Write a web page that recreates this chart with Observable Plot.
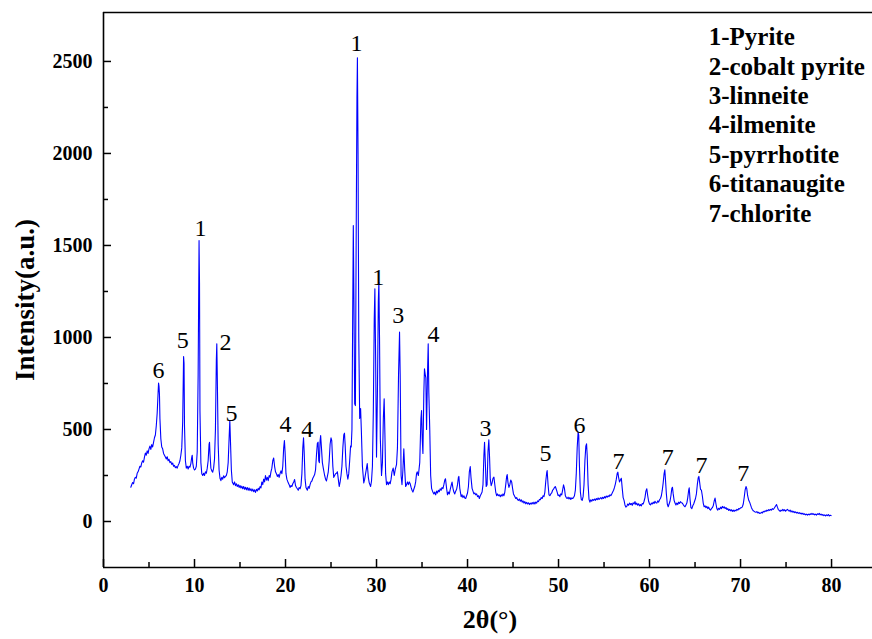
<!DOCTYPE html>
<html><head><meta charset="utf-8">
<script src="https://cdn.jsdelivr.net/npm/d3@7"></script>
<script src="https://cdn.jsdelivr.net/npm/@observablehq/plot@0.6"></script>
<style>body{margin:0;background:#fff}</style>
</head><body><div id="chart"></div>
<script>
// [2θ (°), intensity (a.u.)]
const scanLow = [[3.0,186],[3.1,200],[3.2,212],[3.3,205],[3.4,230],[3.5,240],[3.6,236],[3.7,262],[3.8,270],[3.9,285],[4.0,300],[4.1,296],[4.2,318],[4.3,330],[4.4,322],[4.5,350],[4.6,372],[4.7,360],[4.8,384],[4.9,370],[5.0,395],[5.1,410],[5.2,392],[5.3,418],[5.4,405],[5.5,430],[5.6,455],[5.7,470],[5.8,520],[5.9,590],[6.0,700],[6.05,752],[6.1,735],[6.15,690],[6.2,560],[6.3,450],[6.4,405],[6.5,395],[6.6,370],[6.7,360],[6.8,350],[6.9,340],[7.0,352],[7.1,330],[7.2,338],[7.3,320],[7.4,325],[7.5,310],[7.6,318],[7.7,300],[7.8,305],[7.9,292],[8.0,298],[8.1,290],[8.2,305],[8.3,315],[8.4,330],[8.5,360],[8.6,400],[8.7,540],[8.8,897],[8.85,860],[8.9,520],[9.0,330],[9.1,290],[9.2,300],[9.3,285],[9.4,300],[9.5,295],[9.6,315],[9.7,350],[9.75,360],[9.8,320],[9.9,290],[10.0,280],[10.1,285],[10.2,300],[10.3,380],[10.4,800],[10.5,1527],[10.55,1300],[10.6,600],[10.7,320],[10.8,260],[10.9,250],[11.0,262],[11.1,250],[11.2,270],[11.3,262],[11.4,290],[11.5,330],[11.6,420],[11.65,430],[11.7,370],[11.8,290],[11.9,275],[12.0,268],[12.1,290],[12.2,340],[12.3,500],[12.4,880],[12.45,966],[12.5,800],[12.6,420],[12.7,280],[12.8,235],[12.9,222],[13.0,240],[13.1,230],[13.2,248],[13.3,238],[13.4,245],[13.5,250],[13.6,270],[13.7,320],[13.8,450],[13.88,549],[13.95,440],[14.05,280],[14.15,215]];

const scanMid = [[14.3,200],[14.4,215],[14.5,195],[14.6,205],[14.7,190],[14.8,200],[14.9,185],[15.0,196],[15.1,182],[15.2,192],[15.3,178],[15.4,190],[15.5,175],[15.6,186],[15.7,172],[15.8,185],[15.9,170],[16.0,182],[16.1,168],[16.2,178],[16.3,165],[16.4,176],[16.5,162],[16.6,172],[16.7,158],[16.8,175],[16.9,166],[17.0,180],[17.1,172],[17.2,190],[17.3,182],[17.4,215],[17.5,200],[17.6,230],[17.7,215],[17.8,250],[17.9,225],[18.0,240],[18.1,222],[18.2,250],[18.3,240],[18.4,270],[18.5,290],[18.6,330],[18.7,345],[18.8,300],[18.9,270],[19.0,260],[19.1,245],[19.2,255],[19.3,240],[19.4,260],[19.5,275],[19.6,260],[19.7,300],[19.8,400],[19.88,440],[19.95,380],[20.05,260],[20.15,230],[20.3,210],[20.4,200],[20.5,185],[20.6,195],[20.7,190],[20.8,205],[20.9,215],[21.0,228],[21.1,195],[21.2,185],[21.3,178],[21.4,170],[21.5,185],[21.6,178],[21.7,195],[21.8,260],[21.9,400],[21.98,455],[22.05,380],[22.15,230],[22.25,185],[22.4,170],[22.5,190],[22.6,180],[22.7,200],[22.8,215],[22.9,220],[23.0,235],[23.1,245],[23.2,255],[23.3,280],[23.4,360],[23.5,425],[23.58,431],[23.65,330],[23.72,320],[23.8,440],[23.86,467],[23.95,400],[24.05,320],[24.15,290],[24.3,250],[24.4,230],[24.5,220],[24.6,245],[24.7,270],[24.8,330],[24.9,420],[25.0,455],[25.08,440],[25.2,300],[25.3,240],[25.4,250],[25.5,260],[25.6,262],[25.7,270],[25.8,230],[25.9,190],[26.0,215],[26.1,250],[26.2,300],[26.3,400],[26.4,470],[26.48,480],[26.55,420],[26.65,300],[26.75,260],[26.85,230],[26.95,260],[27.05,330],[27.15,410],[27.22,405],[27.3,500],[27.38,1100],[27.45,1608],[27.52,1200],[27.6,640],[27.68,630],[27.76,1500],[27.85,2300],[27.9,2520],[27.97,2000],[28.05,1000],[28.15,560],[28.25,614],[28.33,500],[28.45,300],[28.6,210],[28.7,230],[28.8,260],[28.9,290],[28.98,315],[29.1,240],[29.2,210],[29.35,190],[29.45,220],[29.55,300],[29.65,600],[29.75,1100],[29.82,1265],[29.9,900],[30.0,350],[30.1,700],[30.2,1200],[30.26,1300],[30.33,1000],[30.42,450],[30.55,250],[30.65,320],[30.75,560],[30.84,667],[30.92,480],[31.0,260],[31.1,200],[31.2,215],[31.3,200],[31.4,215],[31.5,205],[31.6,230],[31.7,270],[31.83,290],[31.95,250],[32.05,280],[32.2,310],[32.3,400],[32.42,800],[32.53,1029],[32.6,800],[32.7,250],[32.8,200],[32.9,280],[33.0,395],[33.1,280],[33.2,190],[33.3,200],[33.4,215],[33.5,200],[33.6,215],[33.7,205],[33.8,185],[33.9,170],[34.0,160],[34.1,175],[34.2,190],[34.3,215],[34.4,260],[34.47,270],[34.6,250],[34.75,320],[34.88,560],[34.95,603],[35.02,450],[35.1,370],[35.2,700],[35.27,830],[35.35,800],[35.42,780],[35.5,500],[35.6,800],[35.68,966],[35.75,700],[35.85,500],[35.95,250],[36.05,180],[36.15,165],[36.3,150],[36.4,160],[36.5,145],[36.6,165],[36.7,155],[36.8,170],[36.9,162],[37.0,178]];

const scanHigh = [[37.1,170],[37.2,185],[37.3,178],[37.4,200],[37.5,225],[37.58,232],[37.7,180],[37.8,145],[37.9,160],[38.0,150],[38.1,175],[38.2,195],[38.3,214],[38.4,180],[38.5,160],[38.6,150],[38.7,165],[38.8,175],[38.9,200],[39.0,240],[39.05,245],[39.15,180],[39.3,135],[39.4,145],[39.5,130],[39.6,140],[39.7,128],[39.8,125],[39.9,140],[40.0,155],[40.1,190],[40.2,270],[40.3,299],[40.38,240],[40.5,180],[40.6,165],[40.7,150],[40.8,155],[40.9,145],[41.0,150],[41.1,135],[41.2,140],[41.3,125],[41.4,140],[41.5,150],[41.6,160],[41.7,200],[41.8,360],[41.87,431],[41.95,330],[42.05,190],[42.15,200],[42.25,380],[42.34,444],[42.42,350],[42.5,230],[42.6,195],[42.7,210],[42.8,235],[42.9,241],[43.0,200],[43.1,160],[43.2,140],[43.3,150],[43.4,140],[43.5,145],[43.6,135],[43.7,145],[43.8,138],[43.9,150],[44.0,140],[44.1,160],[44.2,200],[44.3,245],[44.36,255],[44.45,210],[44.55,185],[44.65,200],[44.75,225],[44.85,215],[44.95,180],[45.05,150],[45.15,140],[45.3,125],[45.4,130],[45.5,118],[45.6,115],[45.7,122],[45.8,110],[45.9,118],[46.0,105],[46.1,112],[46.2,100],[46.3,108],[46.4,96],[46.5,104],[46.6,95],[46.7,102],[46.8,92],[46.9,100],[47.0,94],[47.1,103],[47.2,95],[47.3,105],[47.4,95],[47.5,106],[47.6,100],[47.7,112],[47.8,108],[47.9,120],[48.0,118],[48.1,130],[48.2,125],[48.3,140],[48.4,135],[48.5,160],[48.6,220],[48.7,265],[48.75,277],[48.85,200],[48.95,145],[49.05,140],[49.15,150],[49.25,155],[49.35,170],[49.45,175],[49.55,185],[49.65,190],[49.75,175],[49.85,160],[49.95,140],[50.05,145],[50.15,135],[50.25,150],[50.35,145],[50.45,170],[50.55,199],[50.65,180],[50.75,140],[50.85,130],[50.95,125],[51.05,132],[51.15,122],[51.25,130],[51.35,120],[51.45,128],[51.55,125],[51.65,130],[51.75,140],[51.85,170],[51.95,260],[52.05,400],[52.15,485],[52.22,470],[52.3,300],[52.4,160],[52.5,120],[52.6,115],[52.7,135],[52.8,200],[52.9,330],[53.0,410],[53.08,422],[53.15,360],[53.25,200],[53.35,120],[53.45,105],[53.55,118],[53.65,110],[53.75,120],[53.85,115],[53.95,122],[54.05,115],[54.15,125],[54.25,118],[54.35,128],[54.45,120],[54.55,125],[54.65,130],[54.75,122],[54.85,132],[54.95,125],[55.05,135],[55.15,128],[55.25,138],[55.35,132],[55.45,140],[55.55,135],[55.65,145],[55.75,140],[55.85,150],[55.95,160],[56.05,170],[56.15,185],[56.25,205],[56.35,230],[56.45,262],[56.52,268],[56.6,240],[56.7,215],[56.8,225],[56.9,235],[57.0,180],[57.1,130],[57.2,115],[57.3,90],[57.4,78],[57.5,82],[57.6,95],[57.7,88],[57.8,100],[57.9,92],[58.0,98],[58.1,88],[58.2,102],[58.3,95],[58.4,108],[58.5,92],[58.6,100],[58.7,88],[58.8,96],[58.9,85],[59.0,92],[59.1,85],[59.2,98],[59.3,95],[59.4,110],[59.5,130],[59.6,165],[59.7,178],[59.8,140],[59.9,110],[60.0,95],[60.1,90],[60.2,100],[60.3,95],[60.4,105],[60.5,98],[60.6,110],[60.7,102],[60.8,100],[60.9,112],[61.0,105],[61.1,118],[61.2,125],[61.3,140],[61.4,170],[61.5,210],[61.6,260],[61.68,281],[61.75,230],[61.85,150],[61.95,95],[62.05,80],[62.15,95],[62.25,110],[62.35,140],[62.45,180],[62.52,186],[62.6,150],[62.7,115],[62.8,100],[62.9,90],[63.0,100],[63.1,92],[63.2,105],[63.3,98],[63.4,108],[63.5,102],[63.6,100],[63.7,92],[63.8,85],[63.9,80],[64.0,90],[64.1,100],[64.2,130],[64.3,170],[64.36,183],[64.45,120],[64.55,75],[64.65,70],[64.75,85],[64.85,95],[64.95,110],[65.05,125],[65.15,150],[65.25,200],[65.35,238],[65.42,245],[65.5,215],[65.6,175],[65.7,170],[65.8,140],[65.9,100],[66.0,80],[66.1,85],[66.2,75],[66.3,82],[66.4,70],[66.5,78],[66.6,66],[66.7,62],[66.8,70],[66.9,75],[67.0,85],[67.1,110],[67.2,127],[67.3,95],[67.4,70],[67.5,62],[67.6,72],[67.7,66],[67.8,78],[67.9,70],[68.0,82],[68.1,74],[68.2,80],[68.3,70],[68.4,76],[68.5,65],[68.6,70],[68.7,60],[68.8,66],[68.9,58],[69.0,64],[69.1,55],[69.2,62],[69.3,55],[69.4,62],[69.5,58],[69.6,66],[69.7,62],[69.8,70],[69.9,68],[70.0,74],[70.1,75],[70.2,80],[70.3,95],[70.4,130],[70.5,170],[70.6,190],[70.68,180],[70.78,140],[70.9,115],[71.0,105],[71.1,90],[71.2,75],[71.3,65],[71.4,58],[71.5,55],[71.6,52],[71.7,50],[71.8,54],[71.9,46],[72.0,50],[72.1,44],[72.2,45],[72.3,50],[72.4,46],[72.5,55],[72.6,52],[72.7,58],[72.8,55],[72.9,62],[73.0,58],[73.1,65],[73.2,60],[73.3,66],[73.4,62],[73.5,70],[73.6,66],[73.7,72],[73.8,80],[73.9,88],[73.96,92],[74.05,78],[74.15,65],[74.25,60],[74.35,55],[74.45,62],[74.55,58],[74.65,66],[74.75,58],[74.85,64],[74.95,56],[75.05,62],[75.15,66],[75.25,60],[75.35,56],[75.45,62],[75.55,52],[75.65,58],[75.75,50],[75.85,55],[75.95,48],[76.05,52],[76.15,46],[76.25,50],[76.35,44],[76.45,48],[76.55,42],[76.65,46],[76.75,40],[76.85,45],[76.95,38],[77.05,42],[77.15,36],[77.25,40],[77.35,35],[77.45,40],[77.55,36],[77.65,42],[77.75,38],[77.85,44],[77.95,38],[78.05,42],[78.15,36],[78.25,40],[78.35,35],[78.45,42],[78.55,38],[78.65,44],[78.75,36],[78.85,40],[78.95,34],[79.05,38],[79.15,32],[79.25,36],[79.35,30],[79.45,36],[79.55,32],[79.65,38],[79.75,30],[79.85,34],[79.95,32]];

// peak annotations: [2θ, intensity where the label sits, phase number]
const peakLabels = [[6.05,821,"6"],[8.7,984,"5"],[10.66,1592,"1"],[13.4,973,"2"],[14.07,587,"5"],[20.0,527,"4"],[22.4,500,"4"],[27.8,2598,"1"],[30.2,1326,"1"],[32.4,1120,"3"],[36.26,1016,"4"],[41.98,505,"3"],[48.57,370,"5"],[52.3,522,"6"],[56.6,326,"7"],[62.0,348,"7"],[65.7,304,"7"],[70.3,261,"7"]];

const phases = ["1-Pyrite","2-cobalt pyrite","3-linneite","4-ilmenite","5-pyrrhotite","6-titanaugite","7-chlorite"];

const xTicks = [0,10,20,30,40,50,60,70,80];
const xMinorTicks = [5,15,25,35,45,55,65,75];
const yTicks = [0,500,1000,1500,2000,2500];
const yMinorTicks = [250,750,1250,1750,2250];

const xDomain = [0, 84.5];
const yDomain = [-250, 2766];

const scan = [...scanLow, ...scanMid, ...scanHigh].map(([t, i]) => ({t, i}));
const labels = peakLabels.map(([t, i, label]) => ({t, i, label}));
const legend = phases.map((name, row) => ({name, row}));

const serif = "'Liberation Serif', 'Times New Roman', serif";

const chart = Plot.plot({
  width: 872,
  height: 639,
  marginLeft: 103,
  marginRight: 0,
  marginTop: 12,
  marginBottom: 72,
  style: {fontFamily: serif, background: "#fff", color: "#000"},
  x: {domain: xDomain, label: null},
  y: {domain: yDomain, label: null},
  marks: [
    Plot.line(scan, {x: "t", y: "i", stroke: "#0000ff", strokeWidth: 1.1}),
    Plot.ruleX([xDomain[0]], {stroke: "#000", strokeWidth: 1.6}),
    Plot.ruleY([yDomain[0]], {stroke: "#000", strokeWidth: 1.6}),
    Plot.ruleY([yDomain[1]], {stroke: "#000", strokeWidth: 1.6}),
    Plot.axisX({ticks: xTicks, tickSize: -8, tickPadding: 18, fontSize: 20, fontWeight: "bold", tickFormat: d => String(d), label: null, strokeWidth: 1.5}),
    Plot.axisX({ticks: xMinorTicks, tickSize: -5, tickFormat: () => "", label: null, strokeWidth: 1.5}),
    Plot.axisY({ticks: yTicks, tickSize: -8, tickPadding: 19, fontSize: 20, fontWeight: "bold", tickFormat: d => String(d), label: null, strokeWidth: 1.5}),
    Plot.axisY({ticks: yMinorTicks, tickSize: -5, tickFormat: () => "", label: null, strokeWidth: 1.5}),
    Plot.text(labels, {x: "t", y: "i", text: "label", fontSize: 24, fill: "#000"}),
    Plot.text(legend, {x: () => 66.5, y: d => 2632 - d.row * 160, text: "name", textAnchor: "start", fontSize: 25, fontWeight: "bold", fill: "#000"}),
    Plot.text(["Intensity(a.u.)"], {frameAnchor: "left", textAnchor: "middle", dx: -78, dy: 10, rotate: -90, fontSize: 27, fontWeight: "bold", fill: "#000"}),
    Plot.text(["2θ(°)"], {frameAnchor: "bottom", textAnchor: "middle", dx: 2, dy: 60, fontSize: 26, fontWeight: "bold", fill: "#000"})
  ]
});
document.getElementById("chart").appendChild(chart);
</script>
</body></html>
